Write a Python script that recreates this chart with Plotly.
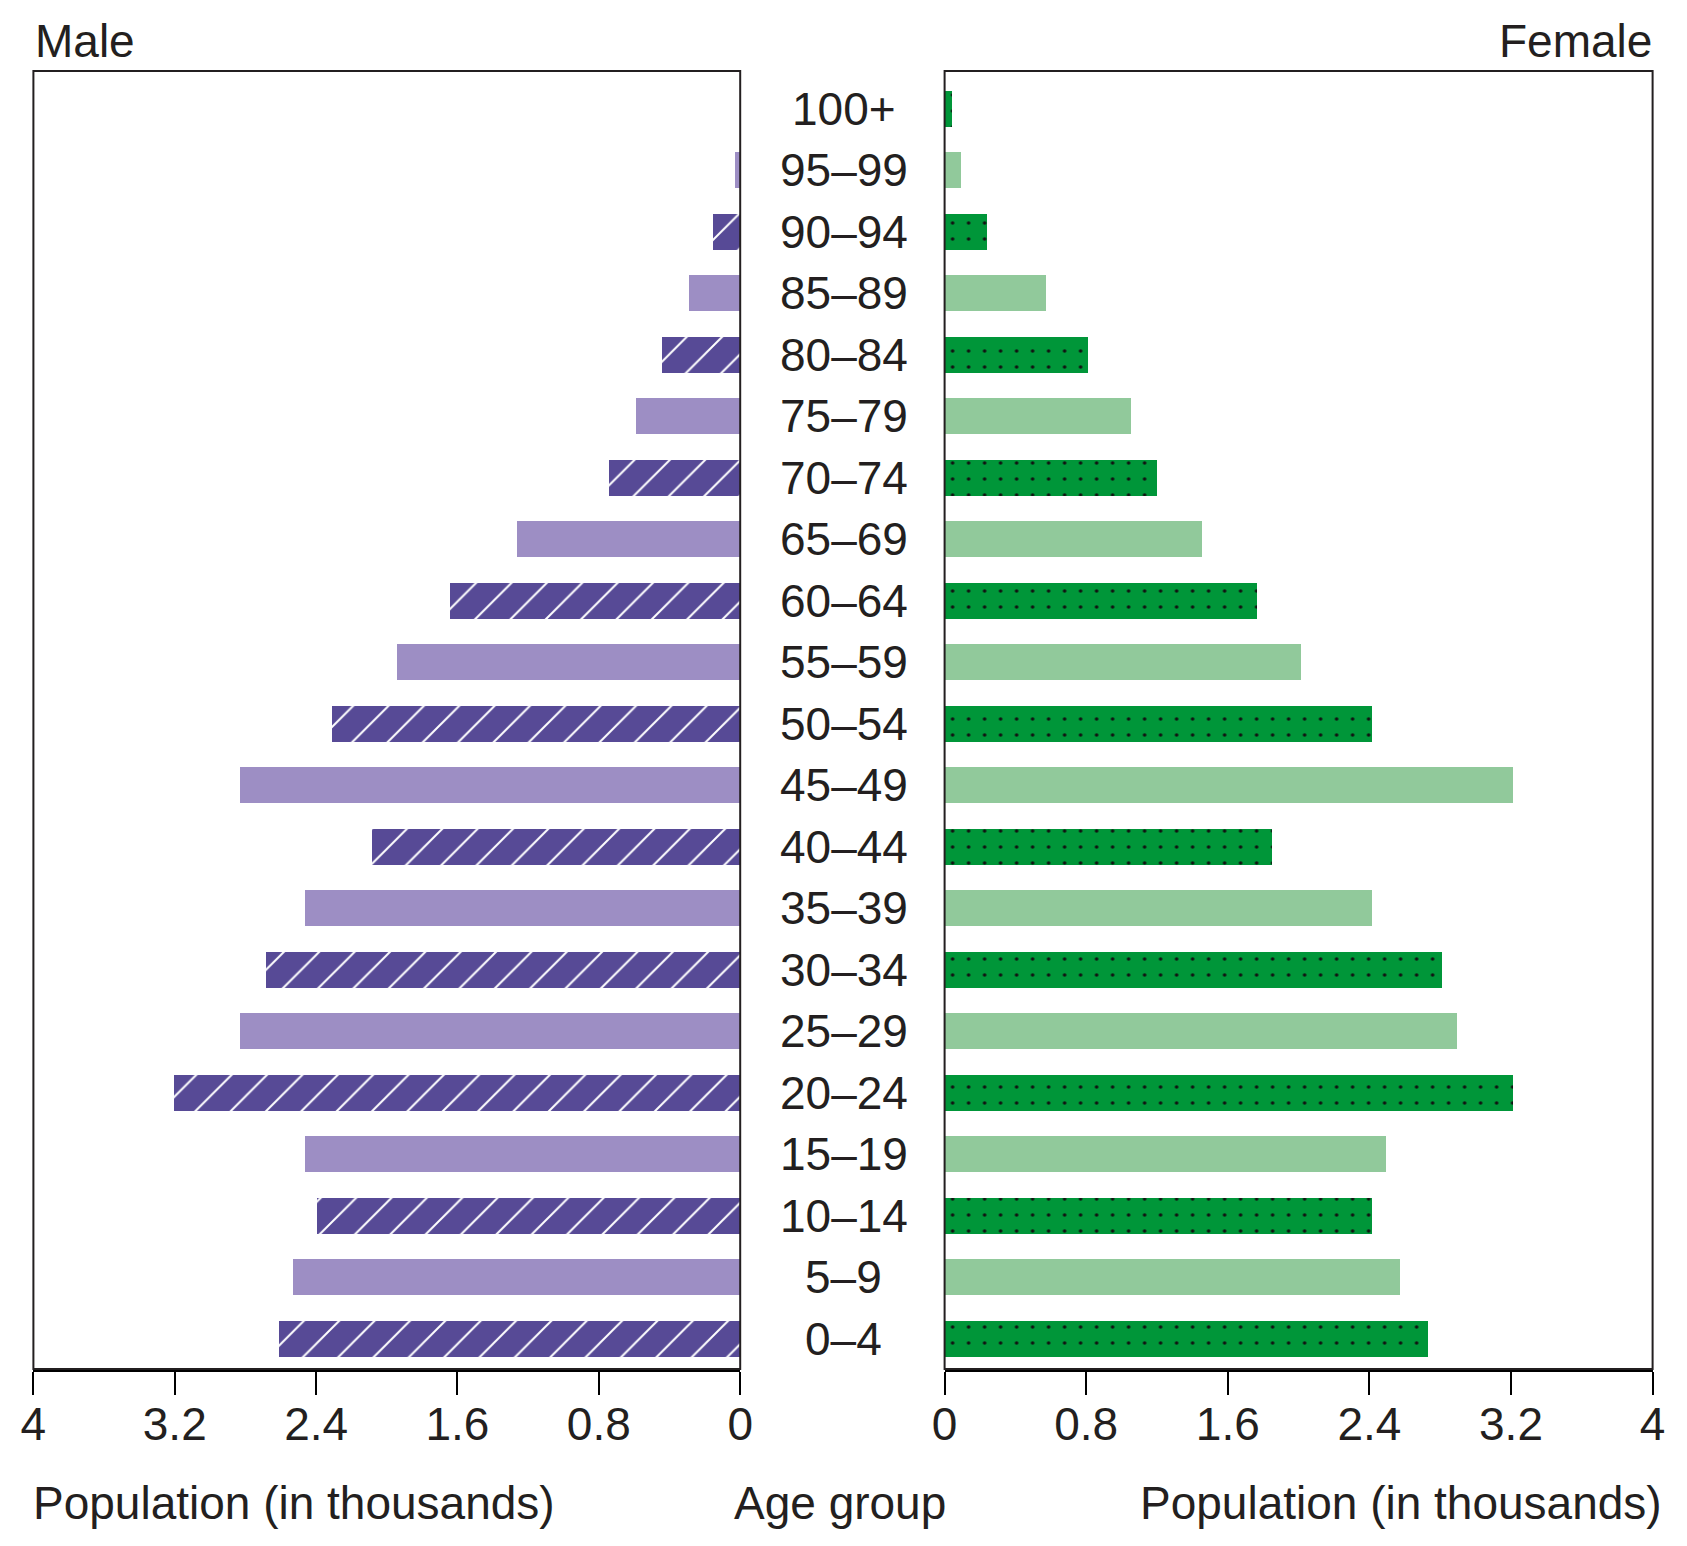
import plotly.graph_objects as go

age_groups = ["0–4", "5–9", "10–14", "15–19", "20–24", "25–29", "30–34", "35–39",
              "40–44", "45–49", "50–54", "55–59", "60–64", "65–69", "70–74", "75–79",
              "80–84", "85–89", "90–94", "95–99", "100+"]
male = [2.61, 2.53, 2.39, 2.46, 3.20, 2.83, 2.68, 2.46, 2.08, 2.83, 2.31, 1.94,
        1.64, 1.26, 0.74, 0.59, 0.44, 0.29, 0.15, 0.03, 0.0]
female = [2.73, 2.57, 2.41, 2.49, 3.21, 2.89, 2.81, 2.41, 1.85, 3.21, 2.41, 2.01,
          1.76, 1.45, 1.20, 1.05, 0.81, 0.57, 0.24, 0.09, 0.04]
tick_vals = [0, 0.8, 1.6, 2.4, 3.2, 4]
tick_text = ["0", "0.8", "1.6", "2.4", "3.2", "4"]

W, H = 1687, 1546
FONT = "Liberation Sans, Arial, sans-serif"
TXT = "#231F20"
FS = 46

idx = list(range(len(age_groups)))
even = idx[0::2]   # hatched rows
odd = idx[1::2]    # plain rows
m_dark, m_light = "#574A96", "#9D8EC4"
f_dark, f_light = "#009639", "#91C99B"
BW = 0.585

fig = go.Figure()
# male hatched
fig.add_trace(go.Bar(
    x=[male[i] for i in even], y=even, orientation="h", xaxis="x", yaxis="y", width=BW,
    marker=dict(color=m_dark, line=dict(width=0),
                pattern=dict(shape="/", fgcolor="white", fgopacity=1, size=25,
                             solidity=0.08, fillmode="overlay")),
    showlegend=False, hoverinfo="skip"))
# male plain
fig.add_trace(go.Bar(
    x=[male[i] for i in odd], y=odd, orientation="h", xaxis="x", yaxis="y", width=BW,
    marker=dict(color=m_light, line=dict(width=0)),
    showlegend=False, hoverinfo="skip"))
# female dotted
fig.add_trace(go.Bar(
    x=[female[i] for i in even], y=even, orientation="h", xaxis="x2", yaxis="y2", width=BW,
    marker=dict(color=f_dark, line=dict(width=0),
                pattern=dict(shape=".", fgcolor="#111111", fgopacity=1, size=16,
                             solidity=0.04, fillmode="overlay")),
    showlegend=False, hoverinfo="skip"))
# female plain
fig.add_trace(go.Bar(
    x=[female[i] for i in odd], y=odd, orientation="h", xaxis="x2", yaxis="y2", width=BW,
    marker=dict(color=f_light, line=dict(width=0)),
    showlegend=False, hoverinfo="skip"))

ydom = [1 - 1369 / H, 1 - 71 / H]
xl = [33.4 / W, 740.2 / W]
xr = [944.6 / W, 1652.6 / W]
yrange = [-0.49, 20.61]

axis_common = dict(tickvals=tick_vals, ticktext=tick_text, ticks="outside", ticklen=23,
                   tickwidth=2, tickcolor="black", showline=True, linewidth=3,
                   linecolor="black", showgrid=False, zeroline=False, automargin=False,
                   ticklabelstandoff=-10,
                   tickfont=dict(family=FONT, size=FS, color=TXT), fixedrange=True)
yaxis_common = dict(domain=ydom, range=yrange, showticklabels=False, ticks="",
                    showgrid=False, zeroline=False, showline=False, automargin=False)
fig.update_layout(
    width=W, height=H, autosize=False,
    margin=dict(l=0, r=0, t=0, b=0, pad=0, autoexpand=False),
    paper_bgcolor="white", plot_bgcolor="white",
    barmode="overlay", bargap=0,
    xaxis=dict(domain=xl, range=[4, 0], anchor="y", **axis_common),
    xaxis2=dict(domain=xr, range=[0, 4], anchor="y2", **axis_common),
    yaxis=dict(anchor="x", **yaxis_common),
    yaxis2=dict(anchor="x2", **yaxis_common),
)

# panel frames
for xr_, yr_ in (("x domain", "y domain"), ("x2 domain", "y2 domain")):
    fig.add_shape(type="rect", xref=xr_, yref=yr_, x0=0, x1=1, y0=0, y1=1,
                  line=dict(color="#231F20", width=2), fillcolor="rgba(0,0,0,0)", layer="above")

ann = []
for i, g in zip(idx, age_groups):
    ann.append(dict(text=g, x=843.5 / W, xref="paper", y=i, yref="y", showarrow=False,
                    xanchor="center", yanchor="middle",
                    font=dict(family=FONT, size=FS, color=TXT)))
ann.append(dict(text="Male", x=33 / W, xref="paper", y=1 - 41 / H, yref="paper",
                xanchor="left", yanchor="middle", showarrow=False,
                font=dict(family=FONT, size=FS, color=TXT)))
ann.append(dict(text="Female", x=1654 / W, xref="paper", y=1 - 41 / H, yref="paper",
                xanchor="right", yanchor="middle", showarrow=False,
                font=dict(family=FONT, size=FS, color=TXT)))
ann.append(dict(text="Population (in thousands)", x=31 / W, xref="paper", y=1 - 1503 / H,
                yref="paper", xanchor="left", yanchor="middle", showarrow=False,
                font=dict(family=FONT, size=FS, color=TXT)))
ann.append(dict(text="Age group", x=840 / W, xref="paper", y=1 - 1503 / H,
                yref="paper", xanchor="center", yanchor="middle", showarrow=False,
                font=dict(family=FONT, size=FS, color=TXT)))
ann.append(dict(text="Population (in thousands)", x=1664 / W, xref="paper", y=1 - 1503 / H,
                yref="paper", xanchor="right", yanchor="middle", showarrow=False,
                font=dict(family=FONT, size=FS, color=TXT)))
fig.update_layout(annotations=ann)

fig.write_html("out.html")
